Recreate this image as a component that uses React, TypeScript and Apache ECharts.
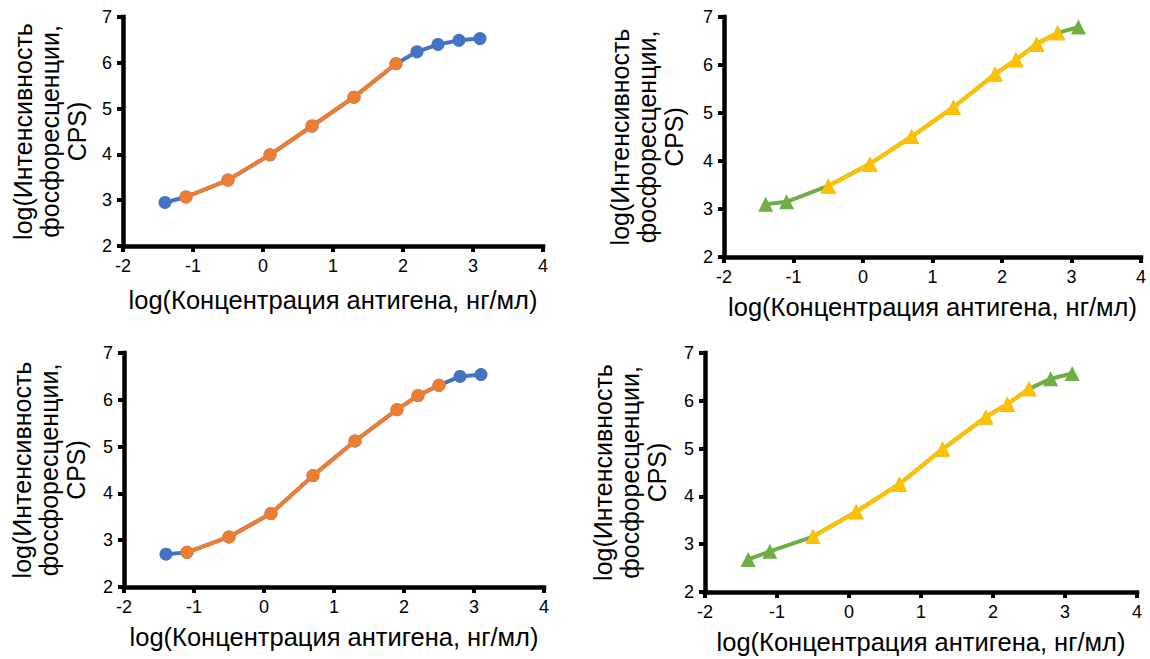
import React, { useEffect, useRef } from "react";
import * as echarts from "echarts";

// log10 of antigen concentration (ng/ml)
const logConc = [-1.4, -1.1, -0.5, 0.1, 0.7, 1.3, 1.9, 2.2, 2.5, 2.8, 3.1];

// log10 of phosphorescence intensity (CPS) for each panel
const panelA = [2.95, 3.07, 3.44, 3.99, 4.62, 5.25, 5.98, 6.24, 6.4, 6.49, 6.53];
const panelB = [3.1, 3.15, 3.48, 3.94, 4.51, 5.12, 5.81, 6.11, 6.44, 6.67, 6.79];
const panelC = [2.7, 2.74, 3.07, 3.57, 4.38, 5.12, 5.79, 6.09, 6.31, 6.5, 6.54];
const panelD = [2.68, 2.85, 3.16, 3.68, 4.26, 4.99, 5.66, 5.93, 6.25, 6.46, 6.57];

// index ranges [from, to] of the highlighted (linear) part of each curve
const linearA = [1, 6];
const linearB = [2, 9];
const linearC = [1, 8];
const linearD = [2, 8];

const xTicks = ["-2", "-1", "0", "1", "2", "3", "4"];
const yTicks = ["2", "3", "4", "5", "6", "7"];

const xTitle = "log(Концентрация антигена, нг/мл)";
const yTitle = "log(Интенсивность\nфосфоресценции,\nCPS)";

const FONT = "'Liberation Sans', Arial, sans-serif";

const panels = [
  { values: panelA, range: linearA, full: "#4472C4", part: "#ED7D31", symbol: "circle", size: 13,
    grid: { left: 123, top: 17, width: 420, height: 229 }, xGap: 41, yGap: 33 },
  { values: panelB, range: linearB, full: "#70AD47", part: "#FFC000", symbol: "triangle", size: 15,
    grid: { left: 724, top: 17, width: 417, height: 240 }, xGap: 37, yGap: 37 },
  { values: panelC, range: linearC, full: "#4472C4", part: "#ED7D31", symbol: "circle", size: 13,
    grid: { left: 124, top: 353, width: 420, height: 234 }, xGap: 37, yGap: 35 },
  { values: panelD, range: linearD, full: "#70AD47", part: "#FFC000", symbol: "triangle", size: 15,
    grid: { left: 705, top: 353, width: 432, height: 239 }, xGap: 37, yGap: 35 },
];

function pairs(values: number[], from: number, to: number) {
  const out: number[][] = [];
  for (let i = from; i <= to; i++) out.push([logConc[i], values[i]]);
  return out;
}

export default function App() {
  const ref = useRef<HTMLDivElement>(null);
  useEffect(() => {
    if (!ref.current) return;
    const chart = echarts.init(ref.current, null, { renderer: "svg" });
    const axisLine = () => ({ show: true, onZero: false, lineStyle: { color: "#000", width: 4.5, cap: "square" } });
    const axisTick = () => ({ show: true, length: 6, lineStyle: { color: "#000", width: 4 } });
    const grids = panels.map((p) => ({ ...p.grid, containLabel: false }));
    const xAxes = panels.map((p, i) => ({
      type: "value",
      gridIndex: i,
      min: Number(xTicks[0]),
      max: Number(xTicks[xTicks.length - 1]),
      interval: 1,
      axisLine: axisLine(),
      axisTick: axisTick(),
      splitLine: { show: false },
      axisLabel: { color: "#000", fontSize: 18, fontFamily: FONT, margin: 11 },
      name: xTitle,
      nameLocation: "middle",
      nameGap: p.xGap,
      nameTextStyle: { color: "#000", fontSize: 25.5, fontFamily: FONT },
    }));
    const yAxes = panels.map((p, i) => ({
      type: "value",
      gridIndex: i,
      min: Number(yTicks[0]),
      max: Number(yTicks[yTicks.length - 1]),
      interval: 1,
      axisLine: axisLine(),
      axisTick: axisTick(),
      splitLine: { show: false },
      axisLabel: { color: "#000", fontSize: 18, fontFamily: FONT, margin: 11 },
      name: yTitle,
      nameLocation: "middle",
      nameRotate: 90,
      nameGap: p.yGap,
      nameTextStyle: { color: "#000", fontSize: 25, fontFamily: FONT, lineHeight: 27, align: "center" },
    }));
    const series: any[] = [];
    panels.forEach((p, i) => {
      series.push({
        type: "line",
        xAxisIndex: i,
        yAxisIndex: i,
        data: pairs(p.values, 0, p.values.length - 1),
        symbol: p.symbol,
        symbolSize: p.size,
        lineStyle: { color: p.full, width: 4 },
        itemStyle: { color: p.full },
        z: 2,
      });
      series.push({
        type: "line",
        xAxisIndex: i,
        yAxisIndex: i,
        data: pairs(p.values, p.range[0], p.range[1]),
        symbol: p.symbol,
        symbolSize: p.size,
        lineStyle: { color: p.part, width: 4 },
        itemStyle: { color: p.part },
        z: 3,
      });
    });
    chart.setOption({
      animation: false,
      backgroundColor: "#fff",
      grid: grids,
      xAxis: xAxes,
      yAxis: yAxes,
      series,
    });
    return () => chart.dispose();
  }, []);
  return (
    <div
      ref={ref}
      style={{ position: "absolute", left: 0, top: 0, width: 1150, height: 659, background: "#fff" }}
    />
  );
}
